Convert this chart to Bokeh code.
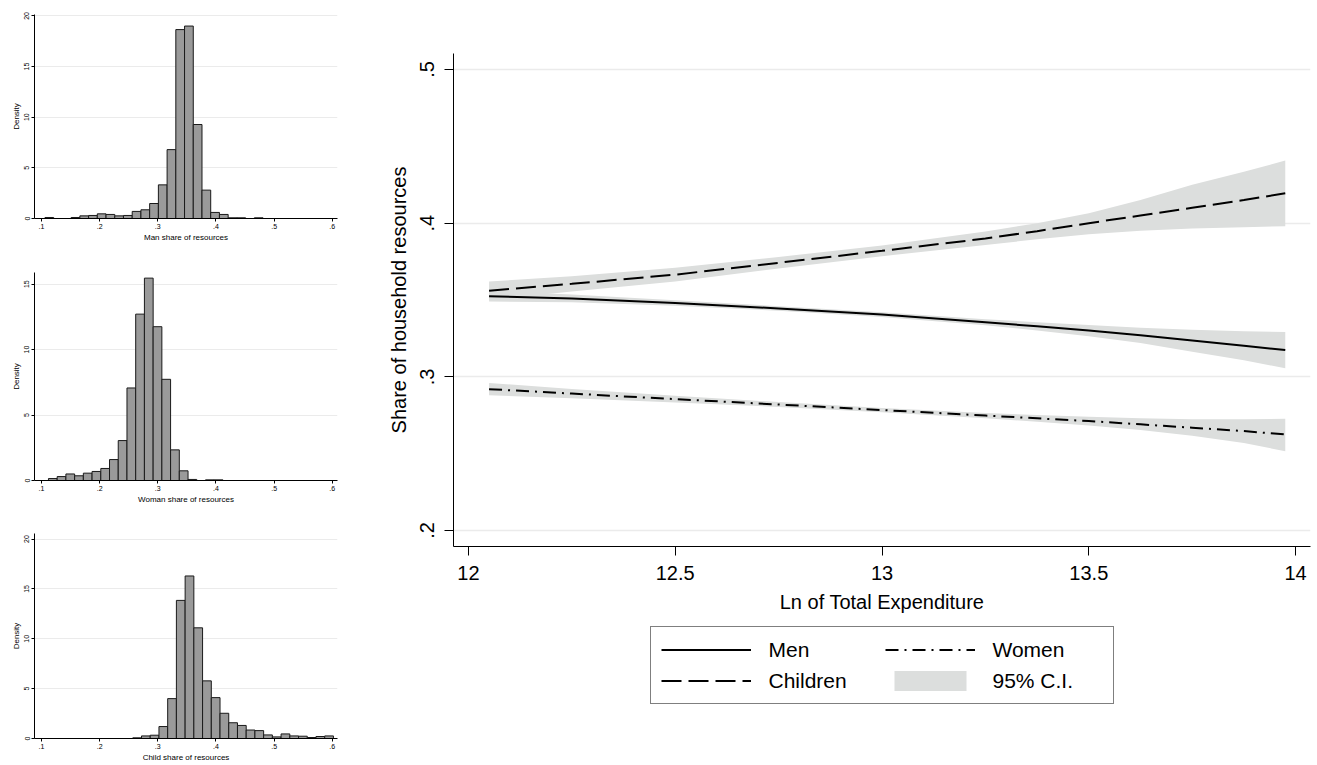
from bokeh.plotting import figure
from bokeh.layouts import row, column
from bokeh.models import FixedTicker, Legend, LegendItem, Range1d
from bokeh.embed import file_html
from bokeh.resources import INLINE

FONT = "Liberation Sans"

# ---------------- histogram data (density per bin) ----------------
bin_width = 0.015
man_start = 0.106
man_density = [0.1, 0, 0, 0.1, 0.26, 0.3, 0.46, 0.4, 0.26, 0.3, 0.7, 0.86, 1.48,
               3.32, 6.8, 18.65, 19.0, 9.28, 2.8, 0.6, 0.4, 0.07, 0.07, 0, 0.07]
woman_start = 0.112
woman_density = [0.15, 0.3, 0.5, 0.36, 0.56, 0.69, 0.92, 1.6, 3.05, 7.07, 12.71,
                 15.46, 11.75, 7.73, 2.34, 0.74, 0.08, 0, 0.05, 0.05]
child_start = 0.257
child_density = [0.07, 0.26, 0.33, 1.2, 4.0, 13.85, 16.3, 11.1, 5.78, 4.1, 2.53,
                 1.58, 1.31, 0.85, 0.79, 0.36, 0.16, 0.46, 0.26, 0.23, 0.1, 0.2, 0.26]
hist_xticks = [0.1, 0.2, 0.3, 0.4, 0.5, 0.6]
hist_xlabels = [".1", ".2", ".3", ".4", ".5", ".6"]
hist_yticks = [0, 5, 10, 15, 20]
hist_ylabels = ["0", "5", "10", "15", "20"]

# ---------------- main chart data ----------------
ln_exp = [12.05, 12.25, 12.5, 12.75, 13.0, 13.25, 13.375, 13.5, 13.625, 13.75, 13.875, 13.975]
men = [0.3525, 0.3510, 0.3480, 0.3445, 0.3405, 0.3355, 0.3329, 0.3301, 0.3270, 0.3236, 0.3203, 0.3174]
men_hi = [0.3560, 0.3535, 0.3498, 0.3460, 0.3421, 0.3374, 0.3356, 0.3338, 0.3320, 0.3306, 0.3297, 0.3292]
men_lo = [0.3490, 0.3485, 0.3462, 0.3430, 0.3389, 0.3336, 0.3302, 0.3264, 0.3220, 0.3164, 0.3108, 0.3056]
children = [0.3560, 0.3605, 0.3665, 0.3742, 0.3820, 0.3900, 0.3948, 0.4000, 0.4050, 0.4100, 0.4150, 0.4195]
children_hi = [0.3620, 0.3655, 0.3710, 0.3780, 0.3855, 0.3945, 0.4000, 0.4065, 0.4150, 0.4250, 0.4335, 0.4407]
children_lo = [0.3500, 0.3555, 0.3620, 0.3705, 0.3785, 0.3858, 0.3895, 0.3928, 0.3950, 0.3965, 0.3974, 0.3980]
women = [0.2920, 0.2891, 0.2855, 0.2820, 0.2784, 0.2748, 0.2730, 0.2712, 0.2691, 0.2669, 0.2647, 0.2625]
women_hi = [0.2960, 0.2921, 0.2877, 0.2836, 0.2798, 0.2765, 0.2752, 0.2740, 0.2730, 0.2724, 0.2724, 0.2727]
women_lo = [0.2880, 0.2861, 0.2833, 0.2804, 0.2770, 0.2731, 0.2708, 0.2684, 0.2654, 0.2617, 0.2570, 0.2516]
x_ticks = [12, 12.5, 13, 13.5, 14]
x_labels = ["12", "12.5", "13", "13.5", "14"]
y_ticks = [0.2, 0.3, 0.4, 0.5]
y_labels = [".2", ".3", ".4", ".5"]
legend_labels = ["Men", "Women", "Children", "95% C.I."]

BAND = "#dcdedd"
GRID = "#ebebeb"
MEN_DASH = "solid"
CHILD_DASH = "20 7"
WOMEN_DASH = "13 6 2 6"


def style_axes(p, tick_px, lab_px, tick_out, standoff, lab_standoff):
    for ax in (p.xaxis[0], p.yaxis[0]):
        ax.major_label_text_font = FONT
        ax.major_label_text_font_size = tick_px
        ax.axis_label_text_font = FONT
        ax.axis_label_text_font_size = lab_px
        ax.axis_label_text_font_style = "normal"
        ax.major_tick_out = tick_out
        ax.major_tick_in = 0
        ax.minor_tick_line_color = None
        ax.axis_line_color = "black"
        ax.major_tick_line_color = "black"
        ax.major_label_standoff = standoff
        ax.axis_label_standoff = lab_standoff
        ax.major_label_text_color = "black"
        ax.axis_label_text_color = "black"
    p.yaxis[0].major_label_orientation = "vertical"
    p.xgrid.visible = False
    p.ygrid.grid_line_color = GRID
    p.ygrid.grid_line_width = 1.2
    p.outline_line_color = None


def hist(start, dens, xlabel, ymax, height, top, bottom):
    p = figure(width=342, height=height, x_range=Range1d(0.088, 0.609),
               y_range=Range1d(0, ymax), output_backend="svg",
               toolbar_location=None, min_border_left=34, min_border_right=5,
               min_border_top=top, min_border_bottom=bottom)
    lefts = [start + i * bin_width for i in range(len(dens))]
    rights = [l + bin_width for l in lefts]
    p.quad(left=lefts, right=rights, bottom=0, top=dens,
           fill_color="#9a9a9a", line_color="#1a1a1a", line_width=1)
    p.xaxis.ticker = FixedTicker(ticks=hist_xticks)
    p.xaxis.major_label_overrides = dict(zip(hist_xticks, hist_xlabels))
    p.yaxis.ticker = FixedTicker(ticks=hist_yticks)
    p.yaxis.major_label_overrides = dict(zip(hist_yticks, hist_ylabels))
    p.xaxis.axis_label = xlabel
    p.yaxis.axis_label = "Density"
    style_axes(p, "7px", "8px", 3, 2, 1)
    return p


h1 = hist(man_start, man_density, "Man share of resources", 20.14, 248, 14, 30)
h2 = hist(woman_start, woman_density, "Woman share of resources", 15.89, 262, 24, 30)
h3 = hist(child_start, child_density, "Child share of resources", 20.56, 254, 23, 22)


def draw_series(fig):
    fig.varea(x=ln_exp, y1=men_lo, y2=men_hi, fill_color=BAND)
    fig.varea(x=ln_exp, y1=children_lo, y2=children_hi, fill_color=BAND)
    b = fig.varea(x=ln_exp, y1=women_lo, y2=women_hi, fill_color=BAND)
    m = fig.line(ln_exp, men, line_color="black", line_width=2, line_dash=MEN_DASH)
    c = fig.line(ln_exp, children, line_color="black", line_width=2, line_dash=CHILD_DASH)
    w = fig.line(ln_exp, women, line_color="black", line_width=2, line_dash=WOMEN_DASH)
    return m, w, c, b


p = figure(width=971, height=615, x_range=Range1d(11.964, 14.036),
           y_range=Range1d(0.1896, 0.5104), output_backend="svg",
           toolbar_location=None, min_border_left=111, min_border_right=3,
           min_border_top=53, min_border_bottom=69)
draw_series(p)

p.xaxis.ticker = FixedTicker(ticks=x_ticks)
p.xaxis.major_label_overrides = dict(zip(x_ticks, x_labels))
p.yaxis.ticker = FixedTicker(ticks=y_ticks)
p.yaxis.major_label_overrides = dict(zip(y_ticks, y_labels))
p.xaxis.axis_label = "Ln of Total Expenditure"
p.yaxis.axis_label = "Share of household resources"
style_axes(p, "20px", "20px", 9, 10, 8)
p.ygrid.grid_line_width = 1.5

# legend panel: same series drawn outside its visible y-range, only the key shows
lf = figure(width=971, height=140, x_range=Range1d(11.964, 14.036),
            y_range=Range1d(5, 6), output_backend="svg", toolbar_location=None,
            min_border_left=111, min_border_right=3, min_border_top=0,
            min_border_bottom=0)
lf.axis.visible = False
lf.grid.visible = False
lf.outline_line_color = None
keys = draw_series(lf)
legend = Legend(items=[LegendItem(label=lab, renderers=[r]) for lab, r in
                       zip(legend_labels, keys)],
                location="top", orientation="horizontal", nrows=2,
                glyph_width=90, glyph_height=25, label_standoff=18,
                label_width=110, label_height=25, spacing=6, padding=10,
                border_line_color="black", border_line_width=1,
                background_fill_color="white", background_fill_alpha=1.0,
                label_text_font=FONT, label_text_font_size="21px",
                label_text_color="black", margin=11)
lf.add_layout(legend, "center")

layout = row(column(h1, h2, h3), column(p, lf))
open("out.html", "w").write(file_html(layout, INLINE))
